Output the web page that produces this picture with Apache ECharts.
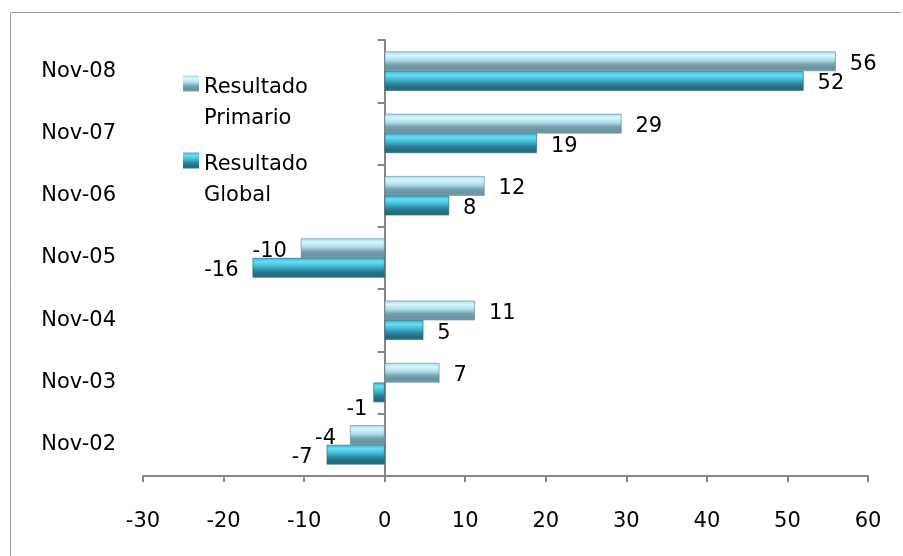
<!DOCTYPE html>
<html>
<head>
<meta charset="utf-8">
<script src="https://cdn.jsdelivr.net/npm/echarts@6/dist/echarts.min.js"></script>
<style>
html,body{margin:0;padding:0;background:#fff;overflow:hidden;}
#chart{width:903px;height:556px;}
</style>
</head>
<body>
<div id="chart"></div>
<script>
const categories = ['Nov-02','Nov-03','Nov-04','Nov-05','Nov-06','Nov-07','Nov-08'];
const resultadoPrimario = [-4.3, 6.8, 11.2, -10.4, 12.4, 29.4, 56];
const resultadoGlobal = [-7.2, -1.4, 4.8, -16.4, 8, 18.9, 52];
const xTicks = [-30, -20, -10, 0, 10, 20, 30, 40, 50, 60];
const seriesNames = ['Resultado\nPrimario', 'Resultado\nGlobal'];

const FONT = 'DejaVu Sans';
function grad(stops, scale){
  return new echarts.graphic.LinearGradient(0,0,0,1,
    stops.map(s => ({offset: s[0]*scale, color: s[1]})));
}
const primStops = [[0,'#a2dcea'],[0.2,'#d6f7fc'],[0.45,'#a9dde9'],[0.65,'#7aa3b1'],[0.85,'#6a92a1'],[1,'#7b9fac']];
const globStops = [[0,'#3db5ce'],[0.2,'#66def4'],[0.45,'#40b4cf'],[0.65,'#2d849c'],[0.85,'#256a7d'],[1,'#2a6f82']];
const primGrad = grad(primStops, 1);
const globGrad = grad(globStops, 1);
const ICON_H = 55;
const primLegGrad = grad(primStops, 16/ICON_H);
const globLegGrad = grad(globStops, 16/ICON_H);
const legendIcon = 'path://M0,0H16V16H0Z M0,' + ICON_H + 'h0.01v0.01h-0.01Z';

function mkData(vals){
  return vals.map(v => {
    const lab = {position: v < 0 ? 'left' : 'right'};
    // very short bars: label sits below the bar end
    if (Math.abs(v) < 2) { lab.offset = [-2, 17]; lab.distance = 4; }
    return {value: v, label: lab};
  });
}

const labelCommon = {
  show: true,
  distance: 14,
  offset: [0, 3],
  color: '#000',
  fontFamily: FONT,
  fontSize: 21,
  formatter: p => Math.round(p.value)
};

const legendText = {fontFamily: FONT, fontSize: 21, color: '#000', lineHeight: 31};

const chart = echarts.init(document.getElementById('chart'));
chart.setOption({
  animation: false,
  textStyle: {fontFamily: FONT},
  graphic: [{
    type: 'polyline', silent: true,
    shape: {points: [[10.5, 556], [10.5, 12.5], [901, 12.5]]},
    style: {fill: 'none', stroke: '#9a9a9a', lineWidth: 1}
  }],
  legend: [{
    data: [seriesNames[0]],
    orient: 'vertical', padding: 0,
    left: 183, top: 72,
    icon: legendIcon,
    itemWidth: 16, itemHeight: ICON_H,
    textStyle: legendText,
    itemStyle: {color: primLegGrad, borderWidth: 0}
  },{
    data: [seriesNames[1]],
    orient: 'vertical', padding: 0,
    left: 183, top: 149,
    icon: legendIcon,
    itemWidth: 16, itemHeight: ICON_H,
    textStyle: legendText,
    itemStyle: {color: globLegGrad, borderWidth: 0}
  }],
  grid: {left: 143, right: 35, top: 40, bottom: 80, containLabel: false},
  xAxis: {
    type: 'value', min: -30, max: 60, interval: 10,
    axisLine: {show: true, lineStyle: {color: '#868686', width: 2}},
    axisTick: {show: true, length: 6, lineStyle: {color: '#868686', width: 2}},
    splitLine: {show: false},
    axisLabel: {margin: 35, fontSize: 21, color: '#000', fontFamily: FONT,
      formatter: v => xTicks.includes(v) ? String(v) : ''}
  },
  yAxis: [{
    type: 'category', data: categories,
    axisLine: {show: true, onZero: true, lineStyle: {color: '#868686', width: 2}},
    axisTick: {show: true, length: 7, lineStyle: {color: '#868686', width: 2}},
    axisLabel: {show: false}
  },{
    type: 'category', data: categories, position: 'left',
    axisLine: {show: false, onZero: false},
    axisTick: {show: false},
    axisLabel: {margin: 27, fontSize: 21, color: '#000', fontFamily: FONT, padding: [6,0,0,0]}
  }],
  series: [{
    name: seriesNames[0], type: 'bar', yAxisIndex: 0,
    data: mkData(resultadoPrimario),
    barGap: '0%', barCategoryGap: '37%',
    itemStyle: {color: primGrad, borderColor: '#5f8795', borderWidth: 0.6},
    label: labelCommon
  },{
    name: seriesNames[1], type: 'bar', yAxisIndex: 0,
    data: mkData(resultadoGlobal),
    barGap: '0%', barCategoryGap: '37%',
    itemStyle: {color: globGrad, borderColor: '#1f6174', borderWidth: 0.6},
    label: labelCommon
  }]
});
</script>
</body>
</html>
